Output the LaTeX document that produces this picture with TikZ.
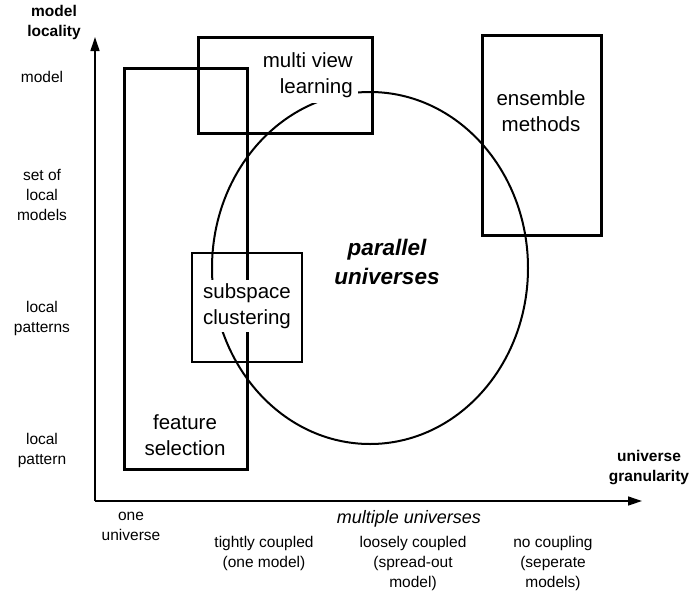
\documentclass[tikz,border=0pt]{standalone}
\usepackage{fontspec}
\setmainfont{Liberation Sans}
\usepackage{tikz}
\usetikzlibrary{arrows.meta}
\definecolor{ink}{HTML}{000000}
\tikzset{
  thickbox/.style={draw=ink, line width=3pt},
  thinbox/.style={draw=ink, line width=1.3pt},
  blob/.style={draw=ink, line width=2pt},
  axisline/.style={draw=ink, line width=1.3pt, -{Triangle[length=14pt,width=9pt]}},
  boxlab/.style={fill=white, inner sep=3pt, align=center, font=\fontsize{20.5}{26}\selectfont},
  lab/.style={align=center, inner sep=0pt, font=\fontsize{15.5}{20}\selectfont},
  axislab/.style={align=center, inner sep=0pt, font=\bfseries\fontsize{15.5}{20}\selectfont},
}

\begin{document}
\begin{tikzpicture}[x=1pt, y=-1pt]
\useasboundingbox (0,0) rectangle (694,595);

% axes
\coordinate (origin) at (95,501);
\coordinate (ytip) at (95,37);
\coordinate (xtip) at (642,501);
\draw[axisline] (origin) -- (ytip);
\draw[axisline] (origin) -- (xtip);
\node[axislab] (ylab) at (54,22) {model\\locality};
\node[axislab] (xlab) at (649,468) {universe\\granularity};

% method regions
\draw[thickbox] (124,68) rectangle (247,469);
\draw[thickbox] (198,37) rectangle (372,133);
\draw[thickbox] (482,35) rectangle (601,235);
\draw[thinbox] (192,253) rectangle (302,362);
\draw[blob] (370,268) ellipse [x radius=158, y radius=176];

\node[boxlab, align=right, anchor=east, inner sep=5pt] (multiview) at (358,75) {multi view\\learning};
\node[boxlab] (ensemble) at (541,111) {ensemble\\methods};
\node[boxlab] (subspace) at (247,306) {subspace\\clustering};
\node[boxlab] (feature) at (185,435) {feature\\selection};
\node[boxlab, font=\bfseries\itshape\fontsize{22.5}{29}\selectfont] (parallel) at (387,262) {parallel\\universes};

% locality levels
\node[lab] (lvmodel) at (42,77) {model};
\node[lab] (lvset) at (42,195) {set of\\local\\models};
\node[lab] (lvpatterns) at (42,318) {local\\patterns};
\node[lab] (lvpattern) at (42,450) {local\\pattern};

% granularity levels
\node[lab] (grone) at (131,526) {one\\universe};
\node[lab, font=\itshape\fontsize{18}{22}\selectfont] (grmulti) at (409,519) {multiple universes};
\node[lab] (grtight) at (264,553) {tightly coupled\\(one model)};
\node[lab] (grloose) at (413,563) {loosely coupled\\(spread-out\\model)};
\node[lab] (grnone) at (553,563) {no coupling\\(seperate\\models)};
\end{tikzpicture}
\end{document}
